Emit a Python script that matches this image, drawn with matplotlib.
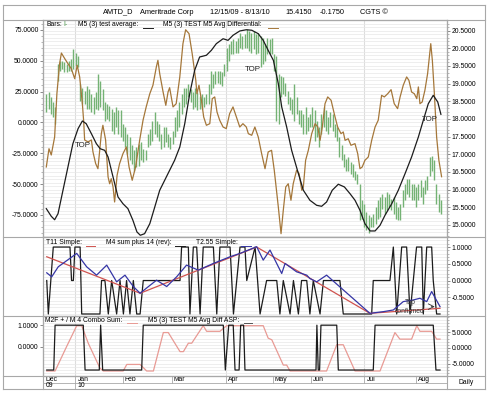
import matplotlib
matplotlib.use("Agg")
import matplotlib.pyplot as plt
import matplotlib.ticker as mticker
from matplotlib.lines import Line2D

plt.rcParams['font.family'] = ['Liberation Sans', 'DejaVu Sans']

W, H = 490, 393

# ---------------- data ----------------
# daily price bars (right scale of the top panel)
bar_high = [18.70, 18.75, 18.61, 18.47, 18.33, 19.55, 19.65, 19.65, 19.60, 19.55,
            19.65, 19.69, 19.97, 19.88, 19.79, 18.99, 18.89, 18.80, 18.94, 18.85,
            18.70, 18.61, 18.75, 19.27, 19.08, 18.85, 18.47, 18.42, 18.38, 18.28,
            18.19, 18.33, 18.24, 18.24, 17.86, 17.76, 17.58, 17.48, 17.25, 17.11,
            17.20, 17.29, 17.34, 17.15, 17.11, 17.58, 17.72, 17.95, 18.19, 17.95,
            17.86, 17.58, 17.76, 17.76, 17.58, 17.48, 17.67, 18.05, 18.24, 18.47,
            18.70, 18.89, 18.89, 18.99, 18.85, 18.75, 18.89, 18.75, 18.66, 18.70,
            18.61, 18.70, 18.99, 19.36, 19.27, 19.36, 19.36, 19.36, 19.32, 19.55,
            20.02, 20.11, 20.21, 20.26, 20.21, 20.30, 20.44, 20.35, 20.40,
            20.54, 20.49, 20.44, 20.49, 20.40, 20.44, 20.35, 20.30, 20.11, 20.30,
            20.26, 20.30, 19.83, 19.79, 19.27, 19.22, 19.18, 19.03, 18.80, 18.61,
            18.56, 18.99, 18.61, 18.24, 18.24, 18.14, 18.33, 18.05, 18.14, 18.33,
            18.24, 17.95, 17.76, 18.14, 18.33, 18.24, 18.05, 18.19, 18.14, 17.86,
            17.76, 17.48, 17.25, 17.01, 16.87, 16.92, 16.78, 16.73, 16.54, 16.45,
            16.17, 15.70, 15.60, 15.37, 15.27, 15.23, 15.32, 15.51, 15.70, 15.79,
            15.89, 15.79, 15.93, 15.89, 15.74, 15.79, 15.65, 15.51, 15.60, 15.98,
            16.17, 16.31, 16.31, 16.17, 16.17, 16.07, 16.17, 16.26, 16.07, 16.26,
            16.40, 16.92, 16.96, 16.83, 16.17, 15.89, 15.70]
bar_low = [18.19, 18.28, 18.14, 18.05, 17.86, 19.08, 19.36, 19.41, 19.32, 19.32,
           19.36, 19.36, 19.41, 19.50, 19.46, 18.52, 18.42, 18.42, 18.28, 18.28,
           18.19, 18.14, 18.28, 18.24, 18.33, 18.24, 17.95, 18.00, 17.95, 17.67,
           17.58, 17.76, 17.58, 17.48, 17.39, 17.20, 17.01, 16.83, 16.73, 16.54,
           16.64, 16.68, 16.83, 16.78, 16.83, 17.20, 17.25, 17.39, 17.58, 17.48,
           17.39, 17.15, 17.20, 17.34, 17.20, 17.15, 17.29, 17.48, 17.67, 17.76,
           18.14, 18.33, 18.42, 18.61, 18.47, 18.28, 18.33, 18.24, 18.28, 18.28,
           18.33, 18.42, 18.42, 18.70, 18.89, 18.99, 19.03, 18.99, 18.94, 19.22,
           19.36, 19.65, 19.83, 19.83, 19.88, 19.88, 20.02, 19.97, 20.02,
           20.02, 19.93, 19.88, 19.97, 19.83, 19.88, 19.46, 19.55, 19.65, 19.83,
           19.83, 19.83, 19.36, 17.95, 17.86, 18.61, 18.70, 18.66, 18.42, 18.24,
           18.14, 17.95, 18.14, 17.86, 17.76, 17.58, 17.58, 17.67, 17.76, 17.76,
           17.39, 17.48, 17.20, 17.58, 17.76, 17.67, 17.58, 17.76, 17.67, 17.48,
           17.39, 16.92, 16.83, 16.64, 16.54, 16.54, 16.45, 16.35, 16.26, 16.17,
           15.13, 15.18, 14.94, 14.85, 14.76, 14.94, 14.94, 15.04, 15.18, 15.23,
           15.46, 15.32, 15.41, 15.51, 15.41, 15.32, 15.18, 15.13, 15.13, 15.51,
           15.70, 15.89, 15.79, 15.70, 15.70, 15.51, 15.70, 15.79, 15.60, 15.89,
           15.98, 16.40, 16.54, 16.26, 15.60, 15.37, 15.32]

# M5 (3) test average (left scale), x in bar index
avg_x = [0, 2.2, 3.7, 5.2, 7.4, 9.6, 11.8, 14.1, 16.0, 17.7, 20.0, 22.2, 23.9, 25.9,
         27.4, 29.6, 31.8, 34.0, 36.2, 38.4, 40.2, 41.7, 43.6, 45.9, 48.1, 50.3,
         52.5, 54.7, 56.9, 59.2, 61.4, 63.6, 65.8, 68.0, 71.0, 73.2, 75.4, 78.4,
         80.6, 82.8, 85.8, 88.7, 91.1, 94.0, 96.2, 98.4, 100.7, 102.9, 104.4, 106.6,
         108.8, 111.8, 114.0, 116.9, 119.9, 122.1, 124.3, 126.8, 129.5, 132.2,
         134.7, 136.9, 139.1, 141.3, 143.6, 145.8, 148.0, 150.2, 153.2, 156.1,
         159.1, 162.0, 165.0, 167.2, 169.4, 171.6, 173.6, 175.0]
avg_y = [-69.9, -76.1, -78.9, -74.0, -55.0, -36.1, -17.2, -5.0, 1.2, -1.0, -9.1,
         -17.2, -21.3, -22.6, -28.0, -44.2, -60.4, -65.9, -69.9, -79.3, -88.8,
         -91.5, -90.2, -82.1, -68.6, -55.0, -46.9, -38.8, -30.7, -19.9, -1.0, 23.3,
         42.3, 53.1, 54.5, 58.5, 63.9, 67.9, 66.6, 70.7, 74.2, 75.2, 74.8, 72.0,
         66.6, 58.5, 50.4, 31.4, 12.6, -3.7, -22.6, -41.5, -55.0, -63.1, -67.2,
         -68.0, -64.5, -55.0, -50.1, -52.3, -57.8, -63.1, -71.2, -82.1, -88.0,
         -88.0, -83.4, -75.3, -65.9, -55.0, -41.5, -28.0, -11.8, 1.8, 15.2, 22.0,
         16.6, 6.6]

# M5 (3) TEST M5 Avg Differential (left scale)
diff_x = [0, 1.2, 2.2, 3.7, 4.7, 5.9, 6.7, 8.2, 9.6, 11.1, 12.6, 13.7, 14.8, 16.0,
          16.6, 17.0, 18.5, 20.0, 20.7, 21.9, 22.9, 24.4, 25.1, 26.3, 27.4, 28.1,
          28.8, 29.6, 30.3, 31.4, 32.5, 34.0, 35.5, 36.7, 38.1, 39.6, 41.4, 42.9,
          44.3, 45.9, 47.3, 48.8, 49.5, 50.3, 51.8, 53.0, 54.0, 54.7, 56.2, 57.6,
          59.2, 60.6, 61.8, 63.3, 64.7, 66.3, 66.8, 67.7, 68.7, 69.8, 71.0, 72.5,
          73.6, 74.7, 75.7, 76.9, 78.4, 79.8, 81.3, 82.8, 84.3, 85.8, 87.2, 88.7,
          89.6, 91.1, 92.5, 94.0, 95.5, 97.0, 98.4, 99.9, 101.1, 102.9, 104.1, 105.1,
          106.2, 107.3, 108.5, 109.5, 111.0, 112.1, 113.3, 114.0, 115.0, 116.2,
          117.7, 119.2, 120.4, 121.4, 122.4, 123.6, 124.8, 126.3, 127.7, 129.2,
          130.7, 131.7, 132.5, 133.9, 135.1, 136.9, 138.1, 139.1, 140.1, 141.3,
          142.8, 144.3, 145.8, 147.2, 148.7, 149.9, 151.4, 152.9, 154.3, 155.8,
          156.9, 158.3, 159.8, 160.8, 162.0, 163.2, 164.3, 165.0, 165.7, 166.7,
          167.9, 169.1, 170.5, 171.2, 172.1, 173.1, 174.1, 175.3]
diff_y = [-36.1, -21.3, -26.4, -11.8, 23.3, 47.7, 56.3, 51.7, 47.7, 43.6, 35.5, 46.4,
          36.9, 15.2, 0.4, -14.2, -15.8, -14.2, -23.9, -33.4, -37.5, -9.1, -2.3,
          -14.2, -44.2, -49.7, -45.6, -52.3, -64.5, -42.8, -33.4, -25.3, -19.9,
          -36.1, -46.9, -36.1, -14.5, 1.8, 12.6, 23.3, 30.2, 45.0, 50.4, 39.6, 24.7,
          13.9, 24.7, 28.2, 12.6, 15.2, 36.9, 63.9, 75.2, 72.0, 55.8, 34.2, 23.3,
          30.2, 19.3, 4.4, -2.3, -1.0, 19.3, 20.7, 8.5, 1.8, -3.7, -5.0, 7.1, 12.6,
          4.4, -3.7, -1.0, -3.7, -9.1, -10.4, -3.7, -11.8, -25.3, -37.5, -23.9,
          -22.6, -38.8, -68.6, -90.2, -71.2, -52.3, -49.7, -63.1, -49.7, -38.8,
          -41.5, -55.0, -52.3, -30.7, -22.6, -9.1, -1.0, -3.7, -14.5, -3.7, 15.2,
          20.7, 18.0, 7.1, -3.7, -9.1, -7.7, -14.5, -13.2, -18.5, -17.2, -25.3,
          -37.5, -36.1, -30.7, -28.0, -14.5, -3.7, 1.8, 22.0, 20.7, 23.3, 26.6,
          15.2, 11.2, 20.7, 30.2, 36.9, 34.2, 24.7, 23.3, 19.3, 28.8, 15.2, 16.6,
          26.1, 39.6, 63.9, 50.4, 23.3, -11.8, -30.7, -44.0]

top_x = [16.3, 91.6, 170.2]
top_y = [-18.3, 42.8, 2.3]

# panel 2
m4_x = [0.2, 0.9, 3.1, 5.3, 10.5, 11.2, 12.0, 12.7, 15.0, 15.7, 23.8, 24.5, 26.0,
        27.5, 29.0, 31.2, 32.7, 34.2, 35.6, 37.1, 38.6, 40.1, 41.6, 43.0, 59.3,
        60.0, 63.0, 63.7, 65.2, 66.7, 68.2, 69.6, 74.1, 75.6, 77.0, 81.5, 83.0,
        85.9, 88.1, 88.9, 92.6, 94.8, 97.7, 102.2, 103.6, 105.1, 108.1, 109.6,
        111.8, 113.2, 115.5, 116.9, 118.4, 121.4, 122.9, 130.2, 131.7, 144.3,
        145.0, 152.4, 153.9, 155.4, 157.6, 159.8, 161.3, 164.2, 166.5, 167.2,
        168.7, 170.9, 171.6, 173.1, 174.6]
m4_y = [0, -1, 1, 1, 1, 0, 0, 1, 1, -1, -1, 0, 0, -1, 0, -1, 0, -1, 0, -1, 0, -1,
        -1, 0, 0, 1, 1, -1, 1, 1, -1, 1, 1, -1, 1, 1, -1, 1, 1, 0, 1, -1, 0, 0, -1,
        0, -1, 0, -1, 0, 0, -1, 0, -1, 0, 0, -1, -1, 0, 0, 1, -1, 1, 1, -1, 1, 1,
        -1, 1, 1, 0, -1, -1]
t11_x = [0.2, 41.6, 93.3, 143.5, 174.6]
t11_y = [0.71, -0.38, 1.0, -0.98, -0.83]
t255_x = [0.2, 2.4, 5.3, 13.5, 17.9, 22.3, 26.8, 31.2, 34.9, 38.6, 41.6, 45.3, 48.9,
          53.4, 57.8, 62.2, 67.4, 74.1, 81.5, 85.9, 93.3, 96.2, 99.2, 104.4, 105.9,
          111.0, 115.5, 116.9, 119.9, 124.3, 131.7, 137.6, 143.5, 149.5, 153.9,
          158.3, 162.8, 165.7, 168.7, 170.9, 174.6]
t255_y = [0.23, 0.11, 0.41, 0.81, 0.41, 0.16, 0.46, -0.04, 0.16, -0.18, -0.38,
          -0.18, 0.01, -0.18, 0.11, 0.46, 0.31, 0.51, 0.71, 0.81, 1.01, 0.61, 0.91,
          0.21, 0.51, 0.26, 0.16, 0.06, -0.04, 0.16, -0.28, -0.63, -0.98, -0.93,
          -0.88, -0.63, -0.58, -0.53, -0.63, -0.33, -0.78]

# panel 3
combo_x = [0.2, 3.9, 9.0, 13.5, 15.7, 18.6, 23.8, 25.3, 34.1, 35.7, 41.6, 44.5, 47.5,
           51.9, 54.1, 59.3, 60.8, 63.0, 64.5, 69.6, 71.1, 77.0, 80.0, 96.2, 98.4,
           100.0, 105.1, 106.6, 108.1, 124.3, 128.8, 131.7, 136.9, 148.0, 154.6,
           156.8, 162.0, 164.3, 165.7, 170.9, 173.1, 174.6]
combo_y = [-7.4, -7.4, 0.4, 7.1, 7.1, 1.5, -6.5, -7.4, -7.4, -5.3, -5.3, -7.4, -7.4,
           4.9, 4.9, -1.2, -1.2, 1.5, 1.5, 7.1, 5.3, 5.3, 7.1, 7.1, 3.1, 2.6, -5.5,
           -5.5, -7.4, -7.4, 1.0, 1.0, -7.4, -7.4, 4.9, 2.8, 2.8, 7.1, 5.3, 5.3, 2.8,
           2.8]
asp_x = [0.2, 3.3, 3.9, 16.4, 17.2, 23.5, 24.1, 25.0, 42.3, 43.0, 78.5, 79.4, 80.9,
         82.9, 83.7, 85.5, 86.2, 87.5, 88.1, 119.6, 120.0, 120.6, 121.2, 121.8,
         128.8, 129.5, 145.0, 145.8, 171.6, 172.8, 174.6]
asp_y = [-1.1, -1.1, 1, 1, -1.1, -1.1, 1, -1.1, -1.1, 1, 1, -1.1, 1, 1, -1.1, -1.1,
         1, 1, -1.1, -1.1, 1, -1.1, -1.1, 1, 1, -1.1, -1.1, 1, 1, -1.1, -1.1]

month_pos = [12.9, 34.0, 55.7, 79.7, 100.5, 117.4, 141.1, 164.0]
month_lbl = ["Jan", "Feb", "Mar", "Apr", "May", "Jun", "Jul", "Aug"]
quarter_pos = [12.9, 79.7, 141.1]

# ---------------- drawing ----------------
XLIM = (-1.46, 177.7)
FS = 4.9
FRAME = '#a8a8a8'
GRID = '#e8e8e8'

fig = plt.figure(figsize=(W / 100, H / 100), dpi=100)
fig.patch.set_facecolor('white')


def rect(x0, y0, x1, y1):
    return [x0 / W, 1 - y1 / H, (x1 - x0) / W, (y1 - y0) / H]


def px_line(x0, y0, x1, y1, color=FRAME, lw=0.8):
    fig.add_artist(Line2D([x0 / W, x1 / W], [1 - y0 / H, 1 - y1 / H],
                          color=color, lw=lw, transform=fig.transFigure))


def px_text(x, y, s, color='black', ha='left', size=FS):
    fig.text(x / W, 1 - y / H, s, color=color, ha=ha, va='center', fontsize=size)


def base(ax):
    ax.set_xlim(*XLIM)
    ax.set_xticks([])
    for sp in ax.spines.values():
        sp.set_color(FRAME)
        sp.set_linewidth(0.8)
    ax.tick_params(axis='y', which='major', length=2.2, width=0.6, pad=1,
                   labelsize=FS, color='#777777')
    ax.tick_params(axis='y', which='minor', length=1.2, width=0.5, color='#999999')
    ax.yaxis.set_major_formatter(mticker.FormatStrFormatter('%.4f'))


# --- top panel ---
ax1 = fig.add_axes(rect(43, 20, 447, 237))
ax1r = ax1.twinx()
for a in (ax1, ax1r):
    base(a)
ax1.set_zorder(ax1r.get_zorder() + 1)
ax1.patch.set_visible(False)

ax1r.set_ylim(14.66, 20.80)
ax1r.set_yticks([15 + 0.5 * k for k in range(12)])
ax1r.yaxis.set_minor_locator(mticker.MultipleLocator(0.1))
ax1r.grid(axis='y', which='both', color=GRID, lw=0.5)
for q in quarter_pos:
    ax1r.axvline(q, color='#dddddd', lw=0.8, zorder=0)
bar_x = list(range(len(bar_high)))
ax1r.vlines(bar_x, bar_low, bar_high, color='#74b274', lw=1.0)

ax1.set_ylim(-92.9, 83.1)
ax1.set_yticks([75, 50, 25, 0, -25, -50, -75])
ax1.yaxis.set_minor_locator(mticker.MultipleLocator(5))
ax1.plot(diff_x, diff_y, color='#a5773a', lw=0.9)
ax1.plot(avg_x, avg_y, color='#1c1c1c', lw=0.9)
for tx, ty in zip(top_x, top_y):
    ax1.text(tx, ty, "TOP", fontsize=FS + 0.8, ha='center', va='center', color='#222222')

# --- middle panel ---
ax2 = fig.add_axes(rect(43, 237, 447, 316))
base(ax2)
ax2.yaxis.tick_right()
ax2.set_ylim(-1.06, 1.3)
ax2.set_yticks([1.0, 0.5, 0.0, -0.5])
ax2.yaxis.set_minor_locator(mticker.MultipleLocator(0.1))
ax2.grid(axis='y', which='both', color=GRID, lw=0.5)
for q in quarter_pos:
    ax2.axvline(q, color='#dddddd', lw=0.8, zorder=0)
ax2.plot(m4_x, m4_y, color='#1c1c1c', lw=0.9)
ax2.plot(t11_x, t11_y, color='#d0534f', lw=0.9)
ax2.plot(t255_x, t255_y, color='#3535a5', lw=0.9)
ax2.text(161.3, -0.67, "Top", fontsize=FS, color='#333333', ha='center', va='center')
ax2.text(161.3, -0.92, "confirmed", fontsize=FS, color='#333333', ha='center', va='center')
ax2.annotate("", xy=(173.5, -0.78), xytext=(169.5, -0.78),
             arrowprops=dict(arrowstyle='->', color='#333333', lw=0.6))

# --- bottom panel ---
ax3 = fig.add_axes(rect(43, 316, 447, 376))
ax3r = ax3.twinx()
for a in (ax3, ax3r):
    base(a)
ax3.set_zorder(ax3r.get_zorder() + 1)
ax3.patch.set_visible(False)
ax3r.set_ylim(-9.0, 10.2)
ax3r.set_yticks([5, 0, -5])
ax3r.yaxis.set_minor_locator(mticker.MultipleLocator(1))
ax3r.grid(axis='y', which='both', color=GRID, lw=0.5)
for q in quarter_pos:
    ax3r.axvline(q, color='#dddddd', lw=0.8, zorder=0)
ax3r.plot(combo_x, combo_y, color='#e89a94', lw=0.9)
ax3.set_ylim(-1.38, 1.43)
ax3.set_yticks([1.0, 0.0])
ax3.plot(asp_x, asp_y, color='#1c1c1c', lw=0.9)

# --- date strip ---
axd = fig.add_axes(rect(43, 376, 447, 389))
axd.set_xlim(*XLIM)
axd.set_ylim(1, 0)
axd.axis('off')
axd.axhline(0.5, color=FRAME, lw=0.6)
for p, lbl in zip(month_pos, month_lbl):
    axd.plot([p, p], [0, 1 if lbl == "Jan" else 0.5], color=FRAME, lw=0.6)
    axd.text(p + 0.9, 0.26, lbl, fontsize=FS, va='center', ha='left')
axd.text(XLIM[0] + 1.2, 0.26, "Dec", fontsize=FS, va='center', ha='left')
axd.text(XLIM[0] + 1.2, 0.76, "09", fontsize=FS, va='center', ha='left')
axd.text(month_pos[0] + 0.9, 0.76, "10", fontsize=FS, va='center', ha='left')

# --- frame lines ---
px_line(3, 5, 485, 5)
px_line(3, 389, 485, 389)
px_line(3, 5, 3, 389)
px_line(485, 5, 485, 389)
for yy in (20, 237, 316, 376):
    px_line(3, yy, 485, yy)
px_line(43, 20, 43, 389)
px_line(447, 20, 447, 389)

# --- title ---
TS = 5.3
px_text(103, 12, "AMTD_D", size=TS)
px_text(140, 12, "Ameritrade Corp", size=TS)
px_text(210, 12, "12/15/09 - 8/13/10", size=TS)
px_text(285, 12, "15.4150", size=TS)
px_text(320, 12, "-0.1750", size=TS)
px_text(360, 12, "CGTS \u00a9", size=TS)
px_text(466, 383, "Daily", ha='center')

# --- legends ---
px_text(46, 25, "Bars:")
px_text(63, 25, "I-", color='#3a8a3a')
px_text(78, 25, "M5 (3) test average:")
px_line(143, 28, 153, 28, color='#1c1c1c', lw=0.7)
px_text(163, 25, "M5 (3) TEST M5 Avg Differential:")
px_line(268, 28, 278, 28, color='#a5773a', lw=0.7)

px_text(46, 243, "T11 Simple:")
px_line(86, 246, 95, 246, color='#d0534f', lw=0.7)
px_text(106, 243, "M4 sum plus 14 (rev):")
px_line(175, 246, 185, 246, color='#1c1c1c', lw=0.7)
px_text(196, 243, "T2.55 Simple:")
px_line(241, 246, 251, 246, color='#3535a5', lw=0.7)

px_text(45, 320, "M2F + / M 4 Combo Sum:")
px_line(127, 323, 137, 323, color='#e89a94', lw=0.7)
px_text(148, 320, "M5 (3) TEST M5 Avg Diff ASP:")
px_line(244, 323, 252, 323, color='#555555', lw=0.7)

fig.savefig("out.png", dpi=100)
